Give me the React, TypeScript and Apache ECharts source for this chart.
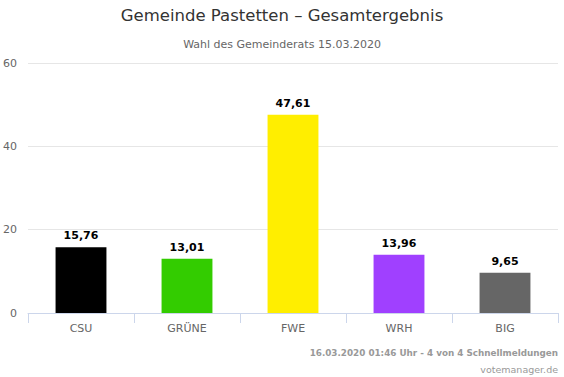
import React, { useEffect, useRef } from "react";
import * as echarts from "echarts";

const categories = ["CSU", "GRÜNE", "FWE", "WRH", "BIG"];
const values = [15.76, 13.01, 47.61, 13.96, 9.65];
const colors = ["#000000", "#33cc00", "#ffee00", "#a040ff", "#666666"];
const yTicks = [0, 20, 40, 60];

export default function App() {
  const ref = useRef<HTMLDivElement>(null);
  useEffect(() => {
    document.body.style.margin = "0";
    const chart = echarts.init(ref.current!, null, { renderer: "svg" });
    const font = "'DejaVu Sans', Verdana, sans-serif";
    chart.setOption({
      animation: false,
      textStyle: { fontFamily: font },
      title: [
        {
          text: "Gemeinde Pastetten – Gesamtergebnis",
          left: "center",
          top: 2,
          textStyle: { fontSize: 16.5, fontWeight: "normal", color: "#333333", fontFamily: font },
        },
        {
          text: "Wahl des Gemeinderats 15.03.2020",
          left: "center",
          top: 34,
          textStyle: { fontSize: 11, fontWeight: "normal", color: "#666666", fontFamily: font },
        },
      ],
      graphic: [
        {
          type: "text",
          right: 6,
          top: 348,
          style: {
            text: "16.03.2020 01:46 Uhr - 4 von 4 Schnellmeldungen",
            fill: "#999999",
            font: "bold 8.8px " + font,
          },
        },
        {
          type: "text",
          right: 6,
          top: 364,
          style: {
            text: "votemanager.de",
            fill: "#999999",
            font: "9.5px " + font,
          },
        },
      ],
      grid: { left: 28, right: 6, top: 63, bottom: 64, containLabel: false },
      xAxis: {
        type: "category",
        data: categories,
        axisLine: { lineStyle: { color: "#ccd6eb" } },
        axisTick: { show: true, alignWithLabel: false, length: 10, lineStyle: { color: "#ccd6eb" } },
        axisLabel: { color: "#666666", fontSize: 11, margin: 10, fontFamily: font },
      },
      yAxis: {
        type: "value",
        min: yTicks[0],
        max: yTicks[yTicks.length - 1],
        interval: 20,
        axisLine: { show: false },
        axisTick: { show: false },
        splitLine: { lineStyle: { color: "#e6e6e6" } },
        axisLabel: { color: "#666666", fontSize: 11, margin: 11, fontFamily: font },
      },
      series: [
        {
          type: "bar",
          barWidth: "48%",
          data: values.map((v, i) => ({
            value: v,
            itemStyle: { color: colors[i] },
          })),
          label: {
            show: true,
            position: "top",
            distance: 6,
            formatter: (p: any) => p.value.toFixed(2).replace(".", ","),
            color: "#000000",
            fontWeight: "bold",
            fontSize: 11,
            fontFamily: font,
          },
        },
      ],
    });
    return () => chart.dispose();
  }, []);
  return <div ref={ref} style={{ width: 564, height: 377 }} />;
}
